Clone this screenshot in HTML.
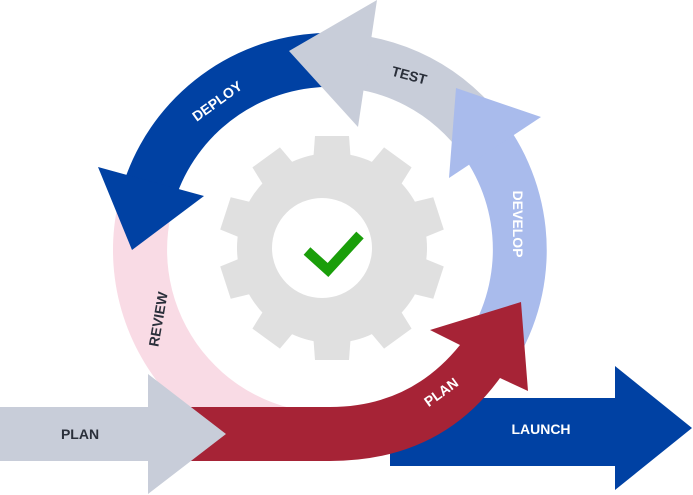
<!DOCTYPE html>
<html><head><style>body{margin:0;background:#fff}svg{display:block}text{font-family:"Liberation Sans",sans-serif;font-weight:bold;font-size:14px}</style></head>
<body>
<svg width="693" height="495" viewBox="0 0 693 495">
<defs><clipPath id="c"><rect x="0" y="0" width="693" height="408"/></clipPath></defs>
<!-- pink review arc -->
<path clip-path="url(#c)" d="M330 467 A217 217 0 0 1 126 176 L177 194 A163 163 0 0 0 330 413 Z" fill="#f9dbe5"/>
<!-- deploy -->
<path d="M337.6 33 A217 217 0 0 0 126 176 L177 194 A163 163 0 0 1 335.7 87 Z" fill="#0041a3"/>
<polygon points="98,167 132,250 204,196" fill="#0041a3"/>
<!-- test -->
<path d="M330 33 A217 217 0 0 1 507.8 125.5 L463.5 156.5 A163 163 0 0 0 330 87 Z" fill="#c8cdd9"/>
<polygon points="377,0 289,51 358,127" fill="#c8cdd9"/>
<!-- develop -->
<path d="M492 106 A217 217 0 0 1 518 358 L471 331 A163 163 0 0 0 455 145 Z" fill="#a9bbec"/>
<polygon points="456,88 541,117 449,178" fill="#a9bbec"/>
<!-- gear -->
<g fill="#e0e0e0" transform="translate(332,248)">
<circle r="95"/>
<g id="t"><polygon points="-19,-85 -17,-112 17,-112 19,-85"/></g>
<use href="#t" transform="rotate(36)"/><use href="#t" transform="rotate(72)"/><use href="#t" transform="rotate(108)"/><use href="#t" transform="rotate(144)"/><use href="#t" transform="rotate(180)"/><use href="#t" transform="rotate(216)"/><use href="#t" transform="rotate(252)"/><use href="#t" transform="rotate(288)"/><use href="#t" transform="rotate(324)"/>
</g>
<circle cx="322" cy="248" r="50" fill="#fff"/>
<polyline points="307,251 328,270 360,235" fill="none" stroke="#1a9e0a" stroke-width="10"/>
<!-- launch -->
<polygon points="390,398 615,398 615,366 692,428 615,490 615,466 390,466" fill="#0041a3"/>
<!-- red plan -->
<path d="M150 407 L330 407 Q410 407 460 345 L430 330 L521 302 L528 391 L500 378 Q440 461 330 461 L150 461 Z" fill="#a62336"/>
<!-- gray plan -->
<polygon points="0,407 148,407 148,374 226,434 148,494 148,461 0,461" fill="#c8cdd9"/>
<text x="80" y="439" text-anchor="middle" fill="#2a2f3a">PLAN</text>
<text x="541" y="434" text-anchor="middle" fill="#fff">LAUNCH</text>
<text transform="translate(444,396) rotate(-36)" text-anchor="middle" fill="#fff">PLAN</text>
<text transform="translate(220,105) rotate(-36)" text-anchor="middle" fill="#fff">DEPLOY</text>
<text transform="translate(408,80) rotate(15)" text-anchor="middle" fill="#2a2f3a">TEST</text>
<text transform="translate(513,224) rotate(90)" text-anchor="middle" fill="#fff">DEVELOP</text>
<text transform="translate(163,320) rotate(-80)" text-anchor="middle" fill="#2a2f3a">REVIEW</text>
</svg>
</body></html>
